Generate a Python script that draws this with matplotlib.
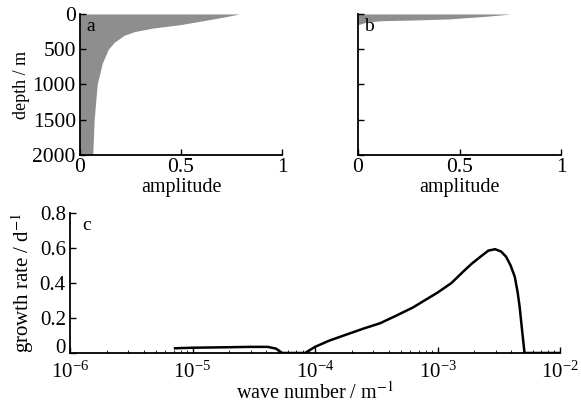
import numpy as np
import matplotlib.pyplot as plt
import matplotlib.transforms as mtransforms

plt.rcParams['font.family'] = ['Liberation Serif', 'DejaVu Serif']
plt.rcParams['mathtext.fontset'] = 'stix'
plt.rcParams['font.size'] = 14

# profil d'amplitude, panneau a
depth_a = [0, 50, 100, 150, 200, 250, 300, 400, 500, 700, 1000, 1500, 2000]
amp_a = [0.79, 0.70, 0.60, 0.50, 0.36, 0.27, 0.22, 0.17, 0.14, 0.11, 0.085, 0.07, 0.063]

# profil d'amplitude, panneau b
depth_b = [0, 15, 35, 55, 70, 85, 95, 110, 125, 140, 150]
amp_b = [0.75, 0.70, 0.62, 0.52, 0.45, 0.28, 0.12, 0.05, 0.03, 0.015, 0.0]

# taux de croissance, panneau c
wave_number = [7.2e-6, 1e-5, 2e-5, 3e-5, 4.1e-5, 4.8e-5, 5.4e-5, 7e-5, 8.3e-5,
               1.0e-4, 1.3e-4, 1.8e-4, 2.5e-4, 3.4e-4, 4.5e-4, 6.3e-4, 1.0e-3,
               1.3e-3, 1.62e-3, 1.9e-3, 2.24e-3, 2.6e-3, 2.95e-3, 3.3e-3, 3.63e-3,
               3.95e-3, 4.27e-3, 4.5e-3, 4.68e-3, 4.9e-3, 5.13e-3, 6e-3, 1e-2]
growth = [0.027, 0.03, 0.033, 0.035, 0.035, 0.025, 0.0, 0.0, 0.0,
          0.035, 0.07, 0.105, 0.14, 0.17, 0.21, 0.26, 0.345,
          0.40, 0.465, 0.51, 0.55, 0.585, 0.593, 0.58, 0.55,
          0.50, 0.436, 0.35, 0.265, 0.13, 0.0, 0.0, 0.0]

fig = plt.figure(figsize=(5.81, 4.03), dpi=100)
ax_a = fig.add_axes([0.1377, 0.6154, 0.3477, 0.3499])
ax_b = fig.add_axes([0.6162, 0.6154, 0.3494, 0.3499])
ax_c = fig.add_axes([0.1205, 0.1241, 0.8434, 0.3474])


def style(ax, xpad=3, size=15.5):
    for s in ['top', 'right']:
        ax.spines[s].set_visible(False)
    for s in ['left', 'bottom']:
        ax.spines[s].set_linewidth(1.3)
    ax.tick_params(direction='in', length=4, width=1.0, labelsize=size)
    ax.tick_params(axis='y', pad=3)
    ax.tick_params(axis='x', pad=xpad)
    ax.tick_params(which='minor', direction='in', length=2, width=0.6)


for ax, d, a, lab in [(ax_a, depth_a, amp_a, 'a'), (ax_b, depth_b, amp_b, 'b')]:
    ax.fill_betweenx(d, 0, a, color='#8e8e8e', lw=0)
    ax.set_xlim(0, 1)
    ax.set_ylim(2000, 0)
    ax.set_xticks([0, 0.5, 1])
    ax.set_xticklabels(['0', '0.5', '1'])
    ax.set_yticks([0, 500, 1000, 1500, 2000])
    ax.set_xlabel('amplitude', labelpad=1, fontsize=14.5)
    ax.text(0.03, 0.97, lab, transform=ax.transAxes, ha='left', va='top', fontsize=14)
    style(ax, xpad=2)

ax_a.set_ylabel('depth / m', labelpad=2, fontsize=13)
ax_b.set_yticklabels([])

ax_c.plot(wave_number, growth, color='black', lw=1.8)
ax_c.set_xscale('log')
ax_c.set_xlim(1e-6, 1e-2)
ax_c.set_ylim(0, 0.8)
ax_c.set_yticks([0, 0.2, 0.4, 0.6, 0.8])
ax_c.set_yticklabels(['0', '0.2', '0.4', '0.6', '0.8'])
ax_c.set_xlabel('wave number / m$^{-1}$', labelpad=-1, fontsize=14.5)
ax_c.set_ylabel('growth rate / d$^{-1}$', labelpad=3, fontsize=15)
ax_c.text(0.025, 0.97, 'c', transform=ax_c.transAxes, ha='left', va='top', fontsize=14)
style(ax_c, xpad=6, size=15)

# petit décalage du "0" pour ne pas toucher 10^-6
zero_lab = ax_c.get_yticklabels()[0]
zero_lab.set_transform(zero_lab.get_transform() +
                       mtransforms.ScaledTranslation(0, 5 / 72, fig.dpi_scale_trans))

fig.savefig('out.png', dpi=100)
